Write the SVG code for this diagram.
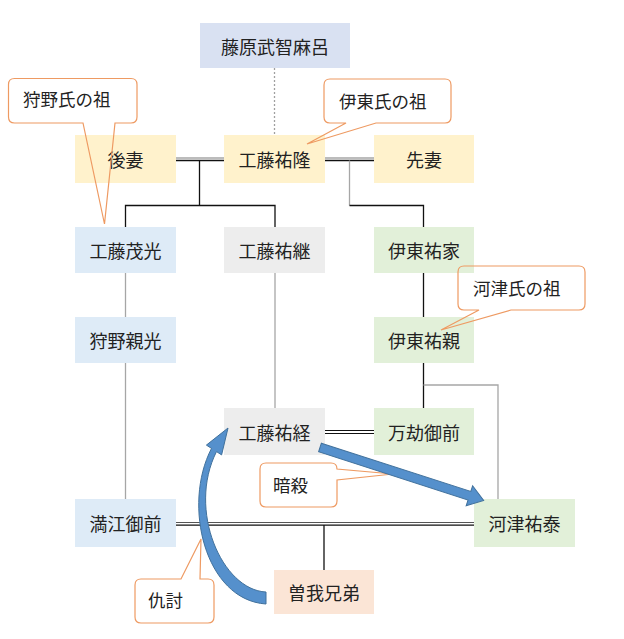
<svg xmlns="http://www.w3.org/2000/svg" width="624" height="639" viewBox="0 0 624 639">
<style>
.t{font-family:"Noto Sans CJK JP","Noto Sans CJK SC",sans-serif;font-size:18px;fill:#222;text-anchor:middle;dominant-baseline:central}
.c{font-family:"Noto Sans CJK JP","Noto Sans CJK SC",sans-serif;font-size:17.5px;fill:#222;dominant-baseline:central}
.k{stroke:#111;stroke-width:1.3;fill:none}
.g{stroke:#A6A6A6;stroke-width:1.3;fill:none}
.co{fill:none;stroke:#EE9A62;stroke-width:1.2}
.ar{fill:#5590CC;stroke:#41719C;stroke-width:1}
</style>
<rect width="624" height="639" fill="#fff"/>
<g id="connectors">
<line x1="274.5" y1="68" x2="274.5" y2="135" stroke="#A0A0A0" stroke-width="1.3" stroke-dasharray="2,2"/>
<line class="g" x1="176" y1="158" x2="224" y2="158"/>
<line class="k" x1="176" y1="160.5" x2="224" y2="160.5"/>
<line class="g" x1="325" y1="158" x2="374" y2="158"/>
<line class="k" x1="325" y1="160.5" x2="374" y2="160.5"/>
<polyline class="k" points="199.5,160.5 199.5,205.5"/>
<polyline class="k" points="125.5,227 125.5,205.5 275,205.5 275,227"/>
<polyline class="g" points="349.5,160.5 349.5,205.5"/>
<polyline class="k" points="349.5,205.5 423.5,205.5 423.5,227"/>
<line class="g" x1="125.5" y1="273" x2="125.5" y2="317"/>
<line class="g" x1="125.5" y1="363" x2="125.5" y2="499"/>
<line class="g" x1="275" y1="273" x2="275" y2="408"/>
<line class="k" x1="423.5" y1="273" x2="423.5" y2="317"/>
<line class="k" x1="423.5" y1="363" x2="423.5" y2="408"/>
<polyline class="g" points="423.5,385 498,385 498,499"/>
<line stroke="#111" stroke-width="1" x1="325" y1="430.5" x2="374" y2="430.5"/>
<line stroke="#111" stroke-width="1" x1="325" y1="433.5" x2="374" y2="433.5"/>
<line stroke="#555" stroke-width="1.2" x1="176" y1="522.5" x2="474" y2="522.5"/>
<line class="k" x1="176" y1="525.2" x2="474" y2="525.2"/>
<line class="k" x1="324" y1="525" x2="324" y2="570"/>
</g>
<g id="n-fujiwara"><rect x="200" y="23" width="150" height="45" fill="#D9E1F2"/><text class="t" x="275" y="45.5">藤原武智麻呂</text></g>
<g id="n-gosai"><rect x="75" y="135" width="101" height="48" fill="#FFF2CC"/><text class="t" x="125.5" y="159">後妻</text></g>
<g id="n-suketaka"><rect x="224" y="135" width="101" height="48" fill="#FFF2CC"/><text class="t" x="274.5" y="159">工藤祐隆</text></g>
<g id="n-sensai"><rect x="374" y="135" width="100" height="48" fill="#FFF2CC"/><text class="t" x="424" y="159">先妻</text></g>
<g id="n-shigemitsu"><rect x="75" y="227" width="101" height="46" fill="#DEEBF7"/><text class="t" x="125.5" y="250">工藤茂光</text></g>
<g id="n-suketsugu"><rect x="224" y="227" width="101" height="46" fill="#EDEDED"/><text class="t" x="274.5" y="250">工藤祐継</text></g>
<g id="n-sukeie"><rect x="374" y="227" width="100" height="46" fill="#E2F0D9"/><text class="t" x="424" y="250">伊東祐家</text></g>
<g id="n-chikamitsu"><rect x="75" y="317" width="101" height="46" fill="#DEEBF7"/><text class="t" x="125.5" y="340">狩野親光</text></g>
<g id="n-sukechika"><rect x="374" y="317" width="100" height="46" fill="#E2F0D9"/><text class="t" x="424" y="340">伊東祐親</text></g>
<g id="n-suketsune"><rect x="224" y="408" width="101" height="47" fill="#EDEDED"/><text class="t" x="274.5" y="431.5">工藤祐経</text></g>
<g id="n-mangou"><rect x="374" y="408" width="100" height="47" fill="#E2F0D9"/><text class="t" x="424" y="431.5">万劫御前</text></g>
<g id="n-manko"><rect x="75" y="499" width="101" height="48" fill="#DEEBF7"/><text class="t" x="125.5" y="523">満江御前</text></g>
<g id="n-sukeyasu"><rect x="474" y="499" width="101" height="48" fill="#E2F0D9"/><text class="t" x="524.5" y="523">河津祐泰</text></g>
<g id="n-soga"><rect x="274" y="570" width="100" height="44" fill="#FBE5D6"/><text class="t" x="324" y="592">曽我兄弟</text></g>
<g id="callouts">
<g id="c-kano"><path class="co" d="M14.5,78.5 H131 Q137,78.5 137,84.5 V117 Q137,123 131,123 H115 L104.5,224 L83,123 H14.5 Q8.5,123 8.5,117 V84.5 Q8.5,78.5 14.5,78.5 Z"/><text class="c" x="23" y="98">狩野氏の祖</text></g>
<g id="c-ito"><path class="co" d="M330,79 H445 Q451,79 451,85 V117 Q451,123 445,123 H376 L307,144 L346,123 H330 Q324,123 324,117 V85 Q324,79 330,79 Z"/><text class="c" x="339" y="100">伊東氏の祖</text></g>
<g id="c-kawazu"><path class="co" d="M464,266 H579 Q585,266 585,272 V304 Q585,310 579,310 H511 L441,330 L479,310 H464 Q458,310 458,304 V272 Q458,266 464,266 Z"/><text class="c" x="473" y="287">河津氏の祖</text></g>
<g id="c-ansatsu"><path class="co" d="M266,463 H331 Q337,463 337,469 L393,474 L337,480 V501 Q337,507 331,507 H266 Q260,507 260,501 V469 Q260,463 266,463 Z"/><text class="c" x="273" y="484">暗殺</text></g>
<g id="c-adauchi"><path class="co" d="M141,579 H181 L201,539 L200,579 H208 Q214,579 214,585 V617 Q214,623 208,623 H141 Q135,623 135,617 V585 Q135,579 141,579 Z"/><text class="c" x="148" y="599">仇討</text></g>
</g>
<g id="arrows">
<path class="ar" transform="translate(320,447.5) rotate(17.9)" d="M0,-4.5 L157,-4.5 L157,-10.5 L172,0 L157,10.5 L157,4.5 L0,4.5 Z"/>
<path class="ar" d="M266,592 C222,590 187,510 216.5,451.6 L221.6,454.9 L228,428 L206.4,445.1 L211.5,448.4 C182,505 205,600 266,604 Z"/>
</g>
</svg>
